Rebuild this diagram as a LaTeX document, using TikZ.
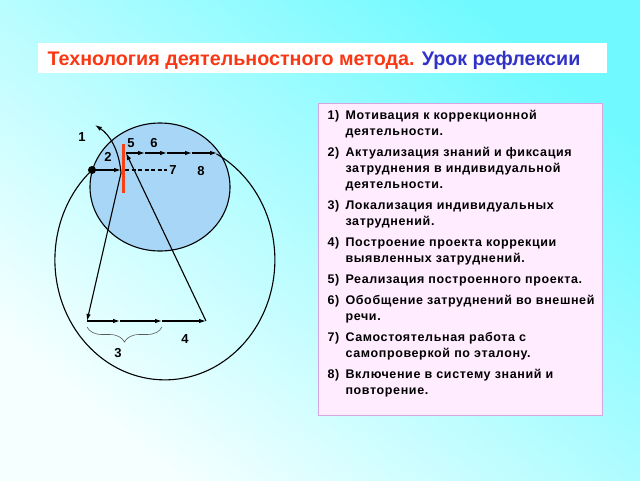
\documentclass[tikz,border=0pt]{standalone}
\usepackage{fontspec}
\setmainfont{Liberation Sans}
\newfontfamily\listfont[LetterSpace=5]{Liberation Sans}
\usetikzlibrary{arrows.meta,decorations.pathreplacing}

\definecolor{bgcyan}{RGB}{112,250,255}
\definecolor{bgpale}{RGB}{245,255,255}
\definecolor{skyfill}{RGB}{168,214,246}
\definecolor{titlered}{RGB}{250,55,20}
\definecolor{titleblue}{RGB}{50,50,200}
\definecolor{listpink}{RGB}{255,236,255}
\definecolor{listedge}{RGB}{215,165,225}
\definecolor{barred}{RGB}{245,65,20}

\begin{document}
\begin{tikzpicture}[x=1pt,y=-1pt,
					>={Latex[length=7pt,width=4.5pt]},
					line width=1.1pt,
					num label/.style={font=\bfseries\fontsize{13}{14}\selectfont},
					list box/.style={fill=listpink,draw=listedge,line width=0.8pt},
					list text/.style={anchor=north west,inner sep=0pt,
						font=\listfont\bfseries\fontsize{12.5}{16}\selectfont}]

  % background
  \shade[top color=bgcyan,bottom color=bgpale,shading angle=-40]
    (0,0) rectangle (640,480);
  \useasboundingbox (0,0) rectangle (640,480);

  % title
  \fill[white] (38,43) rectangle (607,73);
  \node[anchor=base west,inner sep=0pt,font=\bfseries\fontsize{19.7}{21}\selectfont]
    (title) at (47,65) {\textcolor{titlered}{Технология деятельностного метода.}
      \textcolor{titleblue}{Урок рефлексии}};

  % list of steps
  \draw[list box] (318,103) rectangle (602,415);
  \node[list text] (steps) at (327,108) {%
    \begin{tabular}{@{}p{18pt}@{}l@{}}
      1) & Мотивация к коррекционной\\
         & деятельности.\\[5pt]
      2) & Актуализация знаний и фиксация\\
         & затруднения в индивидуальной\\
         & деятельности.\\[5pt]
      3) & Локализация индивидуальных\\
         & затруднений.\\[5pt]
      4) & Построение проекта коррекции\\
         & выявленных затруднений.\\[5pt]
      5) & Реализация построенного проекта.\\[5pt]
      6) & Обобщение затруднений во внешней\\
         & речи.\\[5pt]
      7) & Самостоятельная работа с\\
         & самопроверкой по эталону.\\[5pt]
      8) & Включение в систему знаний и\\
         & повторение.
    \end{tabular}};

  % the two loops
  \draw[fill=skyfill] (160,187) ellipse [x radius=70, y radius=64];
  \coordinate (dot) at (92,170);
  \coordinate (loopend) at (217,153);
  \draw (dot) arc[start angle=228.5, end angle=-62, x radius=110, y radius=120];

  \coordinate (bartop) at (123,144);
  \coordinate (barbot) at (123,193);
  \coordinate (barhit) at (121,170);
  \coordinate (dashA) at (125,170);
  \coordinate (dashB) at (167,170);
  \coordinate (fork) at (121,173);
  \coordinate (up) at (95,125);
  \coordinate (s5) at (126,153);
  \coordinate (t1) at (145,153);
  \coordinate (t2) at (167,153);
  \coordinate (t3) at (192,153);
  \coordinate (b0) at (87,321);
  \coordinate (b1) at (120,321);
  \coordinate (b2) at (162,321);
  \coordinate (b3) at (206,321);

  \path[->]
    (fork) edge (b0)
    (b0) edge (b1)
    (b1) edge (b2)
    (b2) edge (b3)
    (b3) edge (s5)
    (s5) edge (t1)
    (t1) edge (t2)
    (t2) edge (t3)
    (t3) edge (loopend)
    (dot) edge (barhit);
  \draw[dash pattern=on 4pt off 2.5pt] (dashA) -- (dashB);
  \draw[->] (fork) .. controls (119,150) and (110,135) .. (up);
  \fill (dot) circle[radius=4];
  \draw[barred,line width=3pt] (bartop) -- (barbot);
  \draw[decorate,decoration={brace,mirror,amplitude=15pt},gray!70!black,line width=0.6pt]
    (87,327) -- (162,327);

  % labels
  \node[num label] (n1) at (82,137) {1};
  \node[num label] (n2) at (108,157) {2};
  \node[num label] (n5) at (131,143) {5};
  \node[num label] (n6) at (154,143) {6};
  \node[num label] (n7) at (173,170) {7};
  \node[num label] (n8) at (201,171) {8};
  \node[num label] (n4) at (185,339) {4};
  \node[num label] (n3) at (118,353) {3};
\end{tikzpicture}
\end{document}
